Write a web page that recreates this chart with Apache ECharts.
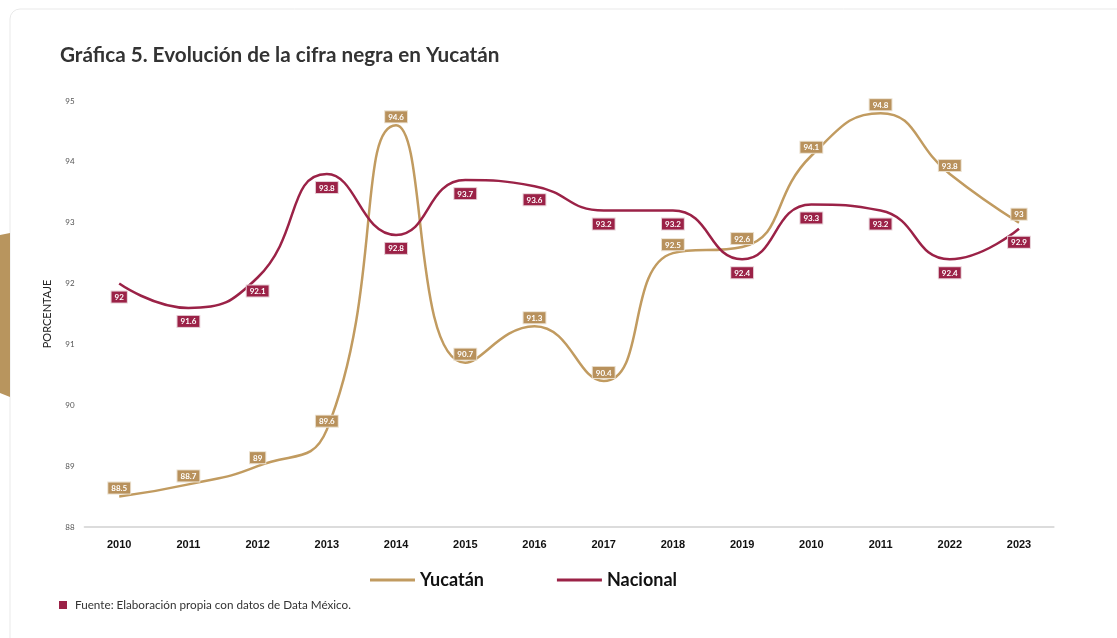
<!DOCTYPE html>
<html>
<head>
<meta charset="utf-8">
<script src="https://cdn.jsdelivr.net/npm/echarts@6/dist/echarts.min.js"></script>
<style>
    html, body { margin: 0; padding: 0; background: #fff; }
    #main { width: 1117px; height: 638px; }
</style>
</head>
<body>
<div id="main"></div>
<script>
    // años tal como aparecen en la gráfica
    const years = ['2010', '2011', '2012', '2013', '2014', '2015', '2016', '2017', '2018', '2019', '2010', '2011', '2022', '2023'];
    const yucatan = [88.5, 88.7, 89, 89.6, 94.6, 90.7, 91.3, 90.4, 92.5, 92.6, 94.1, 94.8, 93.8, 93];
    const nacional = [92, 91.6, 92.1, 93.8, 92.8, 93.7, 93.6, 93.2, 93.2, 92.4, 93.3, 93.2, 92.4, 92.9];

    const gold = '#c19b60';
    const goldLabel = '#b8915c';
    const wine = '#9b2247';

    let myEchart = echarts.init(document.getElementById('main'));

    // etiqueta con fondo de color para cada serie
    function tag(bg, border, pos, dist) {
        return {
            show: true,
            position: pos,
            distance: dist,
            fontFamily: 'Lato',
            fontWeight: 'bold',
            fontSize: 8,
            color: '#fff',
            backgroundColor: bg,
            borderColor: border,
            borderWidth: 1,
            padding: [2, 3, 1, 3]
        };
    }

    let option = {
        animation: false,
        title: {
            text: 'Gráfica 5. Evolución de la cifra negra en Yucatán',
            left: 55,
            top: 40,
            textStyle: { fontFamily: 'Lato', fontWeight: 'bold', fontSize: 20.7, color: '#333' }
        },
        legend: {
            left: 365,
            top: 566,
            icon: 'rect',
            itemWidth: 45,
            itemHeight: 3,
            itemGap: 73,
            textStyle: { fontFamily: 'Lato', fontWeight: 'bold', fontSize: 18, color: '#111' },
            data: ['Yucatán', 'Nacional']
        },
        grid: { left: 84.6, right: 63.4, top: 101, bottom: 111 },
        xAxis: {
            type: 'category',
            data: years,
            axisLine: { lineStyle: { color: '#dcdcdc', width: 2 } },
            axisTick: { show: false },
            axisLabel: { fontFamily: 'Liberation Sans', fontWeight: 'bold', fontSize: 11, color: '#111', margin: 12 }
        },
        yAxis: {
            type: 'value',
            min: 88,
            max: 95,
            interval: 1,
            name: 'PORCENTAJE',
            nameLocation: 'middle',
            nameGap: 32,
            nameTextStyle: { fontFamily: 'Lato', fontSize: 11, color: '#222' },
            splitLine: { show: false },
            axisLine: { show: false },
            axisLabel: { fontFamily: 'Lato', fontSize: 8, color: '#555', margin: 10 }
        },
        series: [
            {
                name: 'Yucatán',
                type: 'line',
                smooth: 0.5,
                symbol: 'circle',
                symbolSize: 0,
                showSymbol: true,
                data: yucatan,
                lineStyle: { color: gold, width: 2.5 },
                itemStyle: { color: gold },
                label: tag(goldLabel, '#eadfcd', 'top', 3)
            },
            {
                name: 'Nacional',
                type: 'line',
                smooth: 0.5,
                symbol: 'circle',
                symbolSize: 0,
                showSymbol: true,
                data: nacional,
                lineStyle: { color: wine, width: 2.5 },
                itemStyle: { color: wine },
                label: tag(wine, '#e6cfd6', 'bottom', 8)
            }
        ],
        graphic: [
            {
                type: 'rect',
                shape: { x: 10, y: 9, width: 1200, height: 700, r: 10 },
                style: { fill: 'none', stroke: '#e9e9e9', lineWidth: 1 },
                z: -1
            },
            {
                type: 'polygon',
                shape: { points: [[0, 235], [10, 233], [10, 397], [0, 393]] },
                style: { fill: '#b8955e' }
            },
            {
                type: 'rect',
                shape: { x: 59, y: 601, width: 8, height: 8 },
                style: { fill: wine }
            },
            {
                type: 'text',
                left: 75,
                top: 599,
                style: { text: 'Fuente: Elaboración propia con datos de Data México.', font: '11.7px Lato', fill: '#333' }
            }
        ]
    };
    myEchart.setOption(option);
</script>
</body>
</html>
